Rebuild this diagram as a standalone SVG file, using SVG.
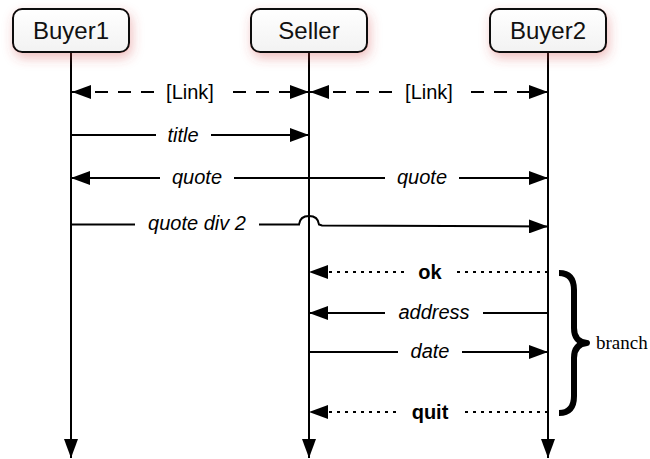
<svg xmlns="http://www.w3.org/2000/svg" width="650" height="459" viewBox="0 0 650 459">
<style>
.box{fill:url(#g);stroke:#111;stroke-width:2}
.nt{font-family:"Liberation Sans",Arial,sans-serif;font-size:24px;text-anchor:middle;fill:#111}
.life{stroke:#000;stroke-width:2;fill:none}
.msg{stroke:#000;stroke-width:2;fill:none}
.dash{stroke-dasharray:13 10}
.dot{stroke-dasharray:3 5}
.lbl{font-family:"Liberation Sans",Arial,sans-serif;font-size:20px;text-anchor:middle;fill:#000}
.it{font-style:italic}
.bd{font-weight:bold}
.bg{fill:#fff}
</style>
<defs>
<linearGradient id="g" x1="0" y1="0" x2="0" y2="1"><stop offset="0" stop-color="#fff"/><stop offset="1" stop-color="#f2f2f2"/></linearGradient>
<filter id="sh" x="-30%" y="-40%" width="160%" height="200%"><feDropShadow dx="2" dy="5" stdDeviation="6" flood-color="#d04040" flood-opacity="0.35"/></filter>
<marker id="ah" markerUnits="userSpaceOnUse" markerWidth="19" markerHeight="14" viewBox="0 0 19 14" refX="19" refY="7" orient="auto-start-reverse"><path d="M0,0 L19,7 L0,14 z" fill="#000"/></marker>
<marker id="la" markerUnits="userSpaceOnUse" markerWidth="19" markerHeight="14" viewBox="0 0 19 14" refX="19" refY="7" orient="auto"><path d="M0,0 L19,7 L0,14 z" fill="#000"/></marker>
</defs>
<g id="lifelines">
<line class="life" x1="71" y1="52" x2="71" y2="458" marker-end="url(#la)"/>
<line class="life" x1="309" y1="52" x2="309" y2="458" marker-end="url(#la)"/>
<line class="life" x1="548" y1="52" x2="548" y2="458" marker-end="url(#la)"/>
</g>
<g id="Buyer1"><rect class="box" x="13" y="9" width="116" height="43" rx="9" filter="url(#sh)"/><text class="nt" x="71" y="39">Buyer1</text></g>
<g id="Seller"><rect class="box" x="251" y="9" width="116" height="43" rx="9" filter="url(#sh)"/><text class="nt" x="309" y="39">Seller</text></g>
<g id="Buyer2"><rect class="box" x="490" y="9" width="116" height="43" rx="9" filter="url(#sh)"/><text class="nt" x="548" y="39">Buyer2</text></g>
<g id="connectors">
<line class="msg dash" x1="72" y1="92" x2="309" y2="92" marker-start="url(#ah)" marker-end="url(#ah)"/>
<line class="msg dash" x1="310" y1="92" x2="548" y2="92" marker-start="url(#ah)" marker-end="url(#ah)"/>
<line class="msg" x1="71" y1="135" x2="309" y2="135" marker-end="url(#ah)"/>
<line class="msg" x1="71" y1="178" x2="548" y2="178" marker-start="url(#ah)" marker-end="url(#ah)"/>
<path class="msg" d="M71,224.5 L299,224.5 Q300,216 309,216 Q318,216 319,224.5 L322,225.5 L548,226.5" marker-end="url(#ah)"/>
<line class="msg dot" x1="548" y1="272" x2="309" y2="272" marker-end="url(#ah)"/>
<line class="msg" x1="548" y1="313" x2="309" y2="313" marker-end="url(#ah)"/>
<line class="msg" x1="309" y1="352" x2="548" y2="352" marker-end="url(#ah)"/>
<line class="msg dot" x1="548" y1="412" x2="309" y2="412" marker-end="url(#ah)"/>
</g>
<g id="labels">
<rect class="bg" x="156" y="80" width="68" height="24"/><text class="lbl" x="190" y="99">[Link]</text>
<rect class="bg" x="395" y="80" width="68" height="24"/><text class="lbl" x="429" y="99">[Link]</text>
<rect class="bg" x="156" y="123" width="55" height="24"/><text class="lbl it" x="183" y="142">title</text>
<rect class="bg" x="160" y="166" width="74" height="24"/><text class="lbl it" x="197" y="184">quote</text>
<rect class="bg" x="385" y="166" width="74" height="24"/><text class="lbl it" x="422" y="184">quote</text>
<rect class="bg" x="135" y="212" width="124" height="24"/><text class="lbl it" x="197" y="230">quote div 2</text>
<rect class="bg" x="407" y="260" width="46" height="24"/><text class="lbl bd" x="430" y="279">ok</text>
<rect class="bg" x="385" y="301" width="98" height="24"/><text class="lbl it" x="434" y="319">address</text>
<rect class="bg" x="398" y="340" width="64" height="24"/><text class="lbl it" x="430" y="358">date</text>
<rect class="bg" x="400" y="400" width="60" height="24"/><text class="lbl bd" x="430" y="419">quit</text>
</g>
<g id="branch">
<path d="M559,273 Q574,273 574,290 L574,328 Q574,342 587,343 Q574,344 574,358 L574,396 Q574,413 559,413" fill="none" stroke="#000" stroke-width="6" stroke-linecap="butt" stroke-linejoin="round"/>
<text x="596" y="349" font-family="'Liberation Serif','Times New Roman',serif" font-size="19" fill="#000">branch</text>
</g>
</svg>
